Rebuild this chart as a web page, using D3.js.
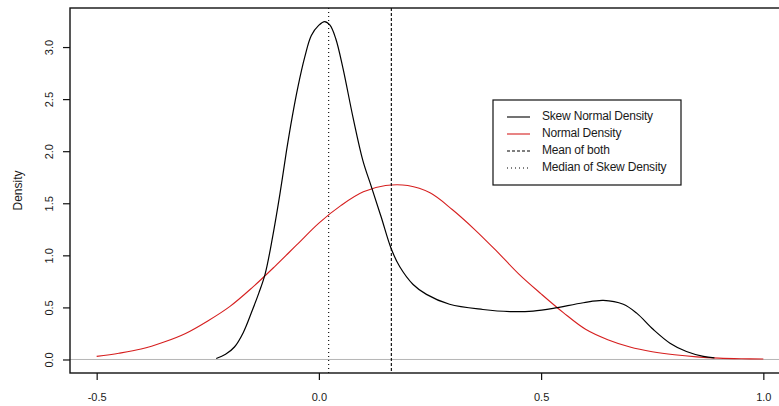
<!DOCTYPE html>
<html>
<head>
<meta charset="utf-8">
<script src="https://cdn.jsdelivr.net/npm/d3@7"></script>
<style>
  html, body { margin: 0; padding: 0; background: #fff; }
  svg { display: block; }
  text { font-family: "Liberation Sans", Arial, sans-serif; fill: #1a1a1a; }
</style>
</head>
<body>
<svg id="chart" width="779" height="406"></svg>
<script>
// ---- Data ----
const skewX = [-0.231,-0.21,-0.19,-0.17,-0.15,-0.135,-0.121,-0.104,-0.088,-0.073,-0.06,-0.047,-0.032,-0.017,0.0,0.013,0.025,0.038,0.054,0.077,0.099,0.118,0.14,0.163,0.182,0.212,0.242,0.294,0.369,0.43,0.482,0.527,0.595,0.64,0.685,0.715,0.752,0.79,0.827,0.865,0.89];
const skewY = [0.01,0.05,0.12,0.26,0.47,0.64,0.82,1.18,1.58,2.0,2.33,2.62,2.90,3.11,3.21,3.245,3.21,3.08,2.80,2.32,1.91,1.66,1.37,1.06,0.89,0.72,0.625,0.53,0.48,0.46,0.465,0.49,0.545,0.568,0.53,0.445,0.29,0.157,0.077,0.03,0.015];

const normX = [-0.5,-0.45,-0.4,-0.35,-0.3,-0.25,-0.2,-0.15,-0.1,-0.05,0.0,0.05,0.1,0.15,0.2,0.25,0.3,0.35,0.4,0.45,0.5,0.55,0.6,0.65,0.7,0.75,0.8,0.85,0.9,0.95,1.0];
const normY = [0.03,0.06,0.10,0.165,0.25,0.37,0.51,0.69,0.89,1.10,1.31,1.48,1.61,1.67,1.67,1.60,1.44,1.25,1.04,0.82,0.63,0.45,0.29,0.19,0.12,0.075,0.045,0.025,0.013,0.007,0.004];

const meanBoth = 0.163;
const medianSkew = 0.022;

const xTicks = [-0.5, 0.0, 0.5, 1.0];
const xTickLabels = ["-0.5", "0.0", "0.5", "1.0"];
const yTicks = [0.0, 0.5, 1.0, 1.5, 2.0, 2.5, 3.0];
const yTickLabels = ["0.0", "0.5", "1.0", "1.5", "2.0", "2.5", "3.0"];

const legendLabels = ["Skew Normal Density", "Normal Density", "Mean of both", "Median of Skew Density"];
const yLabel = "Density";

// ---- Layout ----
const svg = d3.select("#chart");
const pL = 70, pR = 790, pT = 8, pB = 373;

const x = d3.scaleLinear().domain([-0.56, 1.06]).range([pL, pR]);
const y = d3.scaleLinear().domain([-0.1298, 3.375]).range([pB, pT]);

const RED = "#d61f1f";

// zero line
svg.append("line")
  .attr("x1", pL).attr("x2", pR)
  .attr("y1", y(0)).attr("y2", y(0))
  .attr("stroke", "#b5b5b5").attr("stroke-width", 1);

// curves
const line = d3.line().x(d => x(d[0])).y(d => y(d[1])).curve(d3.curveCatmullRom.alpha(0.5));

svg.append("path")
  .datum(normX.map((v, i) => [v, normY[i]]))
  .attr("d", line)
  .attr("fill", "none").attr("stroke", RED).attr("stroke-width", 1.1);

svg.append("path")
  .datum(skewX.map((v, i) => [v, skewY[i]]))
  .attr("d", line)
  .attr("fill", "none").attr("stroke", "#000").attr("stroke-width", 1.2);

// vertical lines
svg.append("line")
  .attr("x1", x(meanBoth)).attr("x2", x(meanBoth))
  .attr("y1", pT).attr("y2", pB)
  .attr("stroke", "#000").attr("stroke-width", 1.1).attr("stroke-dasharray", "3,2");

svg.append("line")
  .attr("x1", x(medianSkew)).attr("x2", x(medianSkew))
  .attr("y1", pT).attr("y2", pB)
  .attr("stroke", "#000").attr("stroke-width", 1.1).attr("stroke-dasharray", "1,3");

// frame
svg.append("rect")
  .attr("x", pL).attr("y", pT)
  .attr("width", pR - pL).attr("height", pB - pT)
  .attr("fill", "none").attr("stroke", "#111").attr("stroke-width", 1.4);

// x axis
const xAxis = d3.axisBottom(x).tickValues(xTicks)
  .tickFormat((d, i) => xTickLabels[i]).tickSize(7).tickPadding(13);
const gx = svg.append("g").attr("transform", `translate(0,${pB})`).call(xAxis);
gx.select(".domain").remove();
gx.selectAll(".tick line").attr("stroke", "#111").attr("stroke-width", 1.2);
gx.selectAll(".tick text").attr("font-size", 11).attr("fill", "#1a1a1a")
  .attr("font-family", "'Liberation Sans', Arial, sans-serif");

// y axis
const yAxis = d3.axisLeft(y).tickValues(yTicks)
  .tickFormat((d, i) => yTickLabels[i]).tickSize(7).tickPadding(0);
const gy = svg.append("g").attr("transform", `translate(${pL},0)`).call(yAxis);
gy.select(".domain").remove();
gy.selectAll(".tick line").attr("stroke", "#111").attr("stroke-width", 1.2);
gy.selectAll(".tick text")
  .attr("font-size", 11).attr("fill", "#1a1a1a")
  .attr("font-family", "'Liberation Sans', Arial, sans-serif")
  .attr("x", 0).attr("dy", null)
  .attr("text-anchor", "middle")
  .attr("transform", "translate(-20,0) rotate(-90)")
  .attr("dominant-baseline", "middle");

// y label
svg.append("text")
  .attr("transform", `translate(19,${(pT + pB) / 2}) rotate(-90)`)
  .attr("text-anchor", "middle").attr("dominant-baseline", "middle")
  .attr("font-size", 12)
  .text(yLabel);

// legend
const lg = svg.append("g");
lg.append("rect")
  .attr("x", 493).attr("y", 100).attr("width", 188).attr("height", 85)
  .attr("fill", "#fff").attr("stroke", "#111").attr("stroke-width", 1.2);

const rowY = [117, 134, 151, 168];
const styles = [
  { stroke: "#000", dash: null },
  { stroke: RED, dash: null },
  { stroke: "#000", dash: "3,2" },
  { stroke: "#000", dash: "1,3" }
];
legendLabels.forEach((lab, i) => {
  lg.append("line")
    .attr("x1", 507).attr("x2", 530).attr("y1", rowY[i]).attr("y2", rowY[i])
    .attr("stroke", styles[i].stroke).attr("stroke-width", 1.1)
    .attr("stroke-dasharray", styles[i].dash);
  lg.append("text")
    .attr("x", 542).attr("y", rowY[i]).attr("dominant-baseline", "middle")
    .attr("font-size", 12).attr("letter-spacing", "-0.2")
    .text(lab);
});
</script>
</body>
</html>
